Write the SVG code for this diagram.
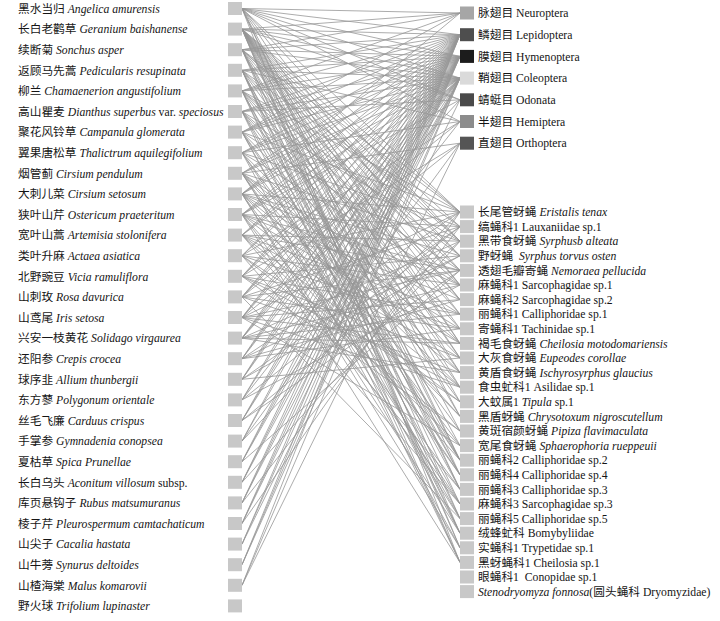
<svg xmlns="http://www.w3.org/2000/svg" width="720" height="621" viewBox="0 0 720 621">
<style>
text{font-family:"Liberation Serif","Noto Sans CJK SC",serif;font-size:11.7px;fill:#151515;white-space:pre}
.i{font-style:italic}
.nb{fill:#c8c8c8}
.e path{fill:none;stroke:#979797;stroke-width:0.8}
</style>
<rect width="720" height="621" fill="#fff"/>
<g class="e" id="connectors">
<path d="M242 8.5L460 13M242 8.5L460 34.7M242 8.5L460 56.4M242 8.5L460 78.1M242 8.5L460 99.8M242 8.5L460 121.5M242 8.5L460 212M242 8.5L460 241.2M242 8.5L460 285M242 8.5L460 343.4M242 8.5L460 416.4M242 8.5L460 460.2M242 8.5L460 474.8M242 8.5L460 562.4"/>
<path d="M242 29.1L460 13M242 29.1L460 34.7M242 29.1L460 56.4M242 29.1L460 78.1M242 29.1L460 99.8M242 29.1L460 212M242 29.1L460 226.6M242 29.1L460 241.2M242 29.1L460 255.8M242 29.1L460 270.4M242 29.1L460 285M242 29.1L460 299.6M242 29.1L460 314.2M242 29.1L460 328.8M242 29.1L460 343.4M242 29.1L460 358M242 29.1L460 372.6M242 29.1L460 387.2M242 29.1L460 401.8M242 29.1L460 431M242 29.1L460 460.2M242 29.1L460 489.4M242 29.1L460 518.6M242 29.1L460 533.2M242 29.1L460 547.8"/>
<path d="M242 49.7L460 13M242 49.7L460 34.7M242 49.7L460 56.4M242 49.7L460 78.1M242 49.7L460 212M242 49.7L460 241.2M242 49.7L460 255.8M242 49.7L460 299.6M242 49.7L460 358M242 49.7L460 416.4M242 49.7L460 445.6M242 49.7L460 489.4M242 49.7L460 504M242 49.7L460 547.8"/>
<path d="M242 70.3L460 34.7M242 70.3L460 56.4M242 70.3L460 78.1M242 70.3L460 121.5M242 70.3L460 226.6M242 70.3L460 270.4M242 70.3L460 314.2M242 70.3L460 372.6M242 70.3L460 460.2M242 70.3L460 474.8M242 70.3L460 518.6M242 70.3L460 533.2M242 70.3L460 562.4"/>
<path d="M242 90.9L460 13M242 90.9L460 34.7M242 90.9L460 56.4M242 90.9L460 78.1M242 90.9L460 212M242 90.9L460 255.8M242 90.9L460 285M242 90.9L460 328.8M242 90.9L460 387.2M242 90.9L460 474.8M242 90.9L460 489.4M242 90.9L460 533.2M242 90.9L460 562.4"/>
<path d="M242 111.5L460 34.7M242 111.5L460 56.4M242 111.5L460 78.1M242 111.5L460 99.8M242 111.5L460 241.2M242 111.5L460 299.6M242 111.5L460 343.4M242 111.5L460 401.8M242 111.5L460 460.2M242 111.5L460 504M242 111.5L460 562.4"/>
<path d="M242 132.1L460 13M242 132.1L460 34.7M242 132.1L460 56.4M242 132.1L460 78.1M242 132.1L460 212M242 132.1L460 270.4M242 132.1L460 358M242 132.1L460 431M242 132.1L460 460.2M242 132.1L460 518.6M242 132.1L460 533.2"/>
<path d="M242 152.7L460 34.7M242 152.7L460 56.4M242 152.7L460 78.1M242 152.7L460 121.5M242 152.7L460 226.6M242 152.7L460 285M242 152.7L460 372.6M242 152.7L460 445.6M242 152.7L460 474.8M242 152.7L460 547.8"/>
<path d="M242 173.3L460 34.7M242 173.3L460 56.4M242 173.3L460 78.1M242 173.3L460 143.2M242 173.3L460 241.2M242 173.3L460 314.2M242 173.3L460 343.4M242 173.3L460 387.2M242 173.3L460 416.4M242 173.3L460 474.8M242 173.3L460 504M242 173.3L460 518.6"/>
<path d="M242 193.9L460 13M242 193.9L460 34.7M242 193.9L460 56.4M242 193.9L460 78.1M242 193.9L460 212M242 193.9L460 255.8M242 193.9L460 285M242 193.9L460 328.8M242 193.9L460 372.6M242 193.9L460 416.4M242 193.9L460 489.4M242 193.9L460 533.2M242 193.9L460 547.8"/>
<path d="M242 214.5L460 34.7M242 214.5L460 56.4M242 214.5L460 78.1M242 214.5L460 99.8M242 214.5L460 226.6M242 214.5L460 270.4M242 214.5L460 299.6M242 214.5L460 343.4M242 214.5L460 387.2M242 214.5L460 460.2M242 214.5L460 504M242 214.5L460 562.4"/>
<path d="M242 235.1L460 34.7M242 235.1L460 56.4M242 235.1L460 78.1M242 235.1L460 241.2M242 235.1L460 270.4M242 235.1L460 314.2M242 235.1L460 358M242 235.1L460 401.8M242 235.1L460 445.6M242 235.1L460 489.4"/>
<path d="M242 255.7L460 34.7M242 255.7L460 56.4M242 255.7L460 121.5M242 255.7L460 212M242 255.7L460 285M242 255.7L460 328.8M242 255.7L460 401.8M242 255.7L460 431M242 255.7L460 504"/>
<path d="M242 276.3L460 34.7M242 276.3L460 56.4M242 276.3L460 78.1M242 276.3L460 143.2M242 276.3L460 255.8M242 276.3L460 314.2M242 276.3L460 358M242 276.3L460 387.2M242 276.3L460 431"/>
<path d="M242 296.9L460 34.7M242 296.9L460 56.4M242 296.9L460 78.1M242 296.9L460 121.5M242 296.9L460 226.6M242 296.9L460 270.4M242 296.9L460 328.8M242 296.9L460 372.6M242 296.9L460 518.6"/>
<path d="M242 317.5L460 34.7M242 317.5L460 56.4M242 317.5L460 78.1M242 317.5L460 143.2M242 317.5L460 212M242 317.5L460 270.4M242 317.5L460 299.6M242 317.5L460 343.4M242 317.5L460 387.2M242 317.5L460 445.6"/>
<path d="M242 338.1L460 34.7M242 338.1L460 56.4M242 338.1L460 78.1M242 338.1L460 99.8M242 338.1L460 241.2M242 338.1L460 285M242 338.1L460 314.2M242 338.1L460 343.4M242 338.1L460 372.6"/>
<path d="M242 358.7L460 34.7M242 358.7L460 56.4M242 358.7L460 78.1M242 358.7L460 212M242 358.7L460 255.8M242 358.7L460 299.6M242 358.7L460 328.8"/>
<path d="M242 379.3L460 34.7M242 379.3L460 56.4M242 379.3L460 78.1M242 379.3L460 226.6M242 379.3L460 255.8M242 379.3L460 358"/>
<path d="M242 399.9L460 34.7M242 399.9L460 56.4M242 399.9L460 121.5M242 399.9L460 226.6M242 399.9L460 285"/>
<path d="M242 420.5L460 34.7M242 420.5L460 56.4M242 420.5L460 78.1M242 420.5L460 241.2M242 420.5L460 270.4"/>
<path d="M242 441.1L460 34.7M242 441.1L460 56.4M242 441.1L460 143.2M242 441.1L460 212"/>
<path d="M242 461.7L460 34.7M242 461.7L460 56.4M242 461.7L460 78.1M242 461.7L460 270.4"/>
<path d="M242 482.3L460 34.7M242 482.3L460 56.4M242 482.3L460 78.1M242 482.3L460 241.2"/>
<path d="M242 502.9L460 34.7M242 502.9L460 56.4M242 502.9L460 78.1M242 502.9L460 226.6"/>
<path d="M242 523.5L460 34.7M242 523.5L460 56.4M242 523.5L460 78.1M242 523.5L460 212"/>
<path d="M242 544.1L460 34.7M242 544.1L460 56.4M242 544.1L460 99.8"/>
<path d="M242 564.7L460 34.7M242 564.7L460 56.4M242 564.7L460 78.1"/>
<path d="M242 585.3L460 34.7M242 585.3L460 78.1M242 585.3L460 143.2"/>
</g>
<g id="plants">
<g id="p0"><rect class="nb" x="228" y="2" width="14" height="13"/><text x="18" y="12.7">黑水当归 <tspan class="i">Angelica amurensis</tspan></text></g>
<g id="p1"><rect class="nb" x="228" y="22.6" width="14" height="13"/><text x="18" y="33.3">长白老鹳草 <tspan class="i">Geranium baishanense</tspan></text></g>
<g id="p2"><rect class="nb" x="228" y="43.2" width="14" height="13"/><text x="18" y="53.9">续断菊 <tspan class="i">Sonchus asper</tspan></text></g>
<g id="p3"><rect class="nb" x="228" y="63.8" width="14" height="13"/><text x="18" y="74.5">返顾马先蒿 <tspan class="i">Pedicularis resupinata</tspan></text></g>
<g id="p4"><rect class="nb" x="228" y="84.4" width="14" height="13"/><text x="18" y="95.1">柳兰 <tspan class="i">Chamaenerion angustifolium</tspan></text></g>
<g id="p5"><rect class="nb" x="228" y="105" width="14" height="13"/><text x="18" y="115.7">高山瞿麦 <tspan class="i">Dianthus superbus</tspan> var. <tspan class="i">speciosus</tspan></text></g>
<g id="p6"><rect class="nb" x="228" y="125.6" width="14" height="13"/><text x="18" y="136.3">聚花风铃草 <tspan class="i">Campanula glomerata</tspan></text></g>
<g id="p7"><rect class="nb" x="228" y="146.2" width="14" height="13"/><text x="18" y="156.9">翼果唐松草 <tspan class="i">Thalictrum aquilegifolium</tspan></text></g>
<g id="p8"><rect class="nb" x="228" y="166.8" width="14" height="13"/><text x="18" y="177.5">烟管蓟 <tspan class="i">Cirsium pendulum</tspan></text></g>
<g id="p9"><rect class="nb" x="228" y="187.4" width="14" height="13"/><text x="18" y="198.1">大刺儿菜 <tspan class="i">Cirsium setosum</tspan></text></g>
<g id="p10"><rect class="nb" x="228" y="208" width="14" height="13"/><text x="18" y="218.7">狭叶山芹 <tspan class="i">Ostericum praeteritum</tspan></text></g>
<g id="p11"><rect class="nb" x="228" y="228.6" width="14" height="13"/><text x="18" y="239.3">宽叶山蒿 <tspan class="i">Artemisia stolonifera</tspan></text></g>
<g id="p12"><rect class="nb" x="228" y="249.2" width="14" height="13"/><text x="18" y="259.9">类叶升麻 <tspan class="i">Actaea asiatica</tspan></text></g>
<g id="p13"><rect class="nb" x="228" y="269.8" width="14" height="13"/><text x="18" y="280.5">北野豌豆 <tspan class="i">Vicia ramuliflora</tspan></text></g>
<g id="p14"><rect class="nb" x="228" y="290.4" width="14" height="13"/><text x="18" y="301.1">山刺玫 <tspan class="i">Rosa davurica</tspan></text></g>
<g id="p15"><rect class="nb" x="228" y="311" width="14" height="13"/><text x="18" y="321.7">山鸢尾 <tspan class="i">Iris setosa</tspan></text></g>
<g id="p16"><rect class="nb" x="228" y="331.6" width="14" height="13"/><text x="18" y="342.3">兴安一枝黄花 <tspan class="i">Solidago virgaurea</tspan></text></g>
<g id="p17"><rect class="nb" x="228" y="352.2" width="14" height="13"/><text x="18" y="362.9">还阳参 <tspan class="i">Crepis crocea</tspan></text></g>
<g id="p18"><rect class="nb" x="228" y="372.8" width="14" height="13"/><text x="18" y="383.5">球序韭 <tspan class="i">Allium thunbergii</tspan></text></g>
<g id="p19"><rect class="nb" x="228" y="393.4" width="14" height="13"/><text x="18" y="404.1">东方蓼 <tspan class="i">Polygonum orientale</tspan></text></g>
<g id="p20"><rect class="nb" x="228" y="414" width="14" height="13"/><text x="18" y="424.7">丝毛飞廉 <tspan class="i">Carduus crispus</tspan></text></g>
<g id="p21"><rect class="nb" x="228" y="434.6" width="14" height="13"/><text x="18" y="445.3">手掌参 <tspan class="i">Gymnadenia conopsea</tspan></text></g>
<g id="p22"><rect class="nb" x="228" y="455.2" width="14" height="13"/><text x="18" y="465.9">夏枯草 <tspan class="i">Spica Prunellae</tspan></text></g>
<g id="p23"><rect class="nb" x="228" y="475.8" width="14" height="13"/><text x="18" y="486.5">长白乌头 <tspan class="i">Aconitum villosum</tspan> subsp.</text></g>
<g id="p24"><rect class="nb" x="228" y="496.4" width="14" height="13"/><text x="18" y="507.1">库页悬钩子 <tspan class="i">Rubus matsumuranus</tspan></text></g>
<g id="p25"><rect class="nb" x="228" y="517" width="14" height="13"/><text x="18" y="527.7">棱子芹 <tspan class="i">Pleurospermum camtachaticum</tspan></text></g>
<g id="p26"><rect class="nb" x="228" y="537.6" width="14" height="13"/><text x="18" y="548.3">山尖子 <tspan class="i">Cacalia hastata</tspan></text></g>
<g id="p27"><rect class="nb" x="228" y="558.2" width="14" height="13"/><text x="18" y="568.9">山牛蒡 <tspan class="i">Synurus deltoides</tspan></text></g>
<g id="p28"><rect class="nb" x="228" y="578.8" width="14" height="13"/><text x="18" y="589.5">山楂海棠 <tspan class="i">Malus komarovii</tspan></text></g>
<g id="p29"><rect class="nb" x="228" y="599.4" width="14" height="13"/><text x="18" y="610.1">野火球 <tspan class="i">Trifolium lupinaster</tspan></text></g>
</g>
<g id="orders">
<g id="o0"><rect x="460" y="6.5" width="14" height="13" fill="#a6a6a6"/><text x="478" y="17.2">脉翅目 Neuroptera</text></g>
<g id="o1"><rect x="460" y="28.2" width="14" height="13" fill="#4e4e4e"/><text x="478" y="38.9">鳞翅目 Lepidoptera</text></g>
<g id="o2"><rect x="460" y="49.9" width="14" height="13" fill="#1c1c1c"/><text x="478" y="60.6">膜翅目 Hymenoptera</text></g>
<g id="o3"><rect x="460" y="71.6" width="14" height="13" fill="#dadada"/><text x="478" y="82.3">鞘翅目 Coleoptera</text></g>
<g id="o4"><rect x="460" y="93.3" width="14" height="13" fill="#4a4a4a"/><text x="478" y="104">蜻蜓目 Odonata</text></g>
<g id="o5"><rect x="460" y="115" width="14" height="13" fill="#8c8c8c"/><text x="478" y="125.7">半翅目 Hemiptera</text></g>
<g id="o6"><rect x="460" y="136.7" width="14" height="13" fill="#555"/><text x="478" y="147.4">直翅目 Orthoptera</text></g>
</g>
<g id="diptera">
<g id="d0"><rect class="nb" x="460" y="205.5" width="14" height="13"/><text x="478" y="216.2">长尾管蚜蝇 <tspan class="i">Eristalis tenax</tspan></text></g>
<g id="d1"><rect class="nb" x="460" y="220.1" width="14" height="13"/><text x="478" y="230.8">缟蝇科1 Lauxaniidae sp.1</text></g>
<g id="d2"><rect class="nb" x="460" y="234.7" width="14" height="13"/><text x="478" y="245.4">黑带食蚜蝇 <tspan class="i">Syrphusb alteata</tspan></text></g>
<g id="d3"><rect class="nb" x="460" y="249.3" width="14" height="13"/><text x="478" y="260">野蚜蝇  <tspan class="i">Syrphus torvus osten</tspan></text></g>
<g id="d4"><rect class="nb" x="460" y="263.9" width="14" height="13"/><text x="478" y="274.6">透翅毛瓣寄蝇 <tspan class="i">Nemoraea pellucida</tspan></text></g>
<g id="d5"><rect class="nb" x="460" y="278.5" width="14" height="13"/><text x="478" y="289.2">麻蝇科1 Sarcophagidae sp.1</text></g>
<g id="d6"><rect class="nb" x="460" y="293.1" width="14" height="13"/><text x="478" y="303.8">麻蝇科2 Sarcophagidae sp.2</text></g>
<g id="d7"><rect class="nb" x="460" y="307.7" width="14" height="13"/><text x="478" y="318.4">丽蝇科1 Calliphoridae sp.1</text></g>
<g id="d8"><rect class="nb" x="460" y="322.3" width="14" height="13"/><text x="478" y="333">寄蝇科1 Tachinidae sp.1</text></g>
<g id="d9"><rect class="nb" x="460" y="336.9" width="14" height="13"/><text x="478" y="347.6">褐毛食蚜蝇 <tspan class="i">Cheilosia motodomariensis</tspan></text></g>
<g id="d10"><rect class="nb" x="460" y="351.5" width="14" height="13"/><text x="478" y="362.2">大灰食蚜蝇 <tspan class="i">Eupeodes corollae</tspan></text></g>
<g id="d11"><rect class="nb" x="460" y="366.1" width="14" height="13"/><text x="478" y="376.8">黄盾食蚜蝇 <tspan class="i">Ischyrosyrphus glaucius</tspan></text></g>
<g id="d12"><rect class="nb" x="460" y="380.7" width="14" height="13"/><text x="478" y="391.4">食虫虻科1 Asilidae sp.1</text></g>
<g id="d13"><rect class="nb" x="460" y="395.3" width="14" height="13"/><text x="478" y="406">大蚊属1 <tspan class="i">Tipula</tspan> sp.1</text></g>
<g id="d14"><rect class="nb" x="460" y="409.9" width="14" height="13"/><text x="478" y="420.6">黑盾蚜蝇 <tspan class="i">Chrysotoxum nigroscutellum</tspan></text></g>
<g id="d15"><rect class="nb" x="460" y="424.5" width="14" height="13"/><text x="478" y="435.2">黄斑宿颜蚜蝇 <tspan class="i">Pipiza flavimaculata</tspan></text></g>
<g id="d16"><rect class="nb" x="460" y="439.1" width="14" height="13"/><text x="478" y="449.8">宽尾食蚜蝇 <tspan class="i">Sphaerophoria rueppeuii</tspan></text></g>
<g id="d17"><rect class="nb" x="460" y="453.7" width="14" height="13"/><text x="478" y="464.4">丽蝇科2 Calliphoridae sp.2</text></g>
<g id="d18"><rect class="nb" x="460" y="468.3" width="14" height="13"/><text x="478" y="479">丽蝇科4 Calliphoridae sp.4</text></g>
<g id="d19"><rect class="nb" x="460" y="482.9" width="14" height="13"/><text x="478" y="493.6">丽蝇科3 Calliphoridae sp.3</text></g>
<g id="d20"><rect class="nb" x="460" y="497.5" width="14" height="13"/><text x="478" y="508.2">麻蝇科3 Sarcophagidae sp.3</text></g>
<g id="d21"><rect class="nb" x="460" y="512.1" width="14" height="13"/><text x="478" y="522.8">丽蝇科5 Calliphoridae sp.5</text></g>
<g id="d22"><rect class="nb" x="460" y="526.7" width="14" height="13"/><text x="478" y="537.4">绒蜂虻科 Bomybyliidae</text></g>
<g id="d23"><rect class="nb" x="460" y="541.3" width="14" height="13"/><text x="478" y="552">实蝇科1 Trypetidae sp.1</text></g>
<g id="d24"><rect class="nb" x="460" y="555.9" width="14" height="13"/><text x="478" y="566.6">黑蚜蝇科1 Cheilosia sp.1</text></g>
<g id="d25"><rect class="nb" x="460" y="570.5" width="14" height="13"/><text x="478" y="581.2">眼蝇科1  Conopidae sp.1</text></g>
<g id="d26"><rect class="nb" x="460" y="585.1" width="14" height="13"/><text x="478" y="595.8"><tspan class="i">Stenodryomyza fonnosa</tspan>(圆头蝇科 Dryomyzidae)</text></g>
</g>
</svg>
